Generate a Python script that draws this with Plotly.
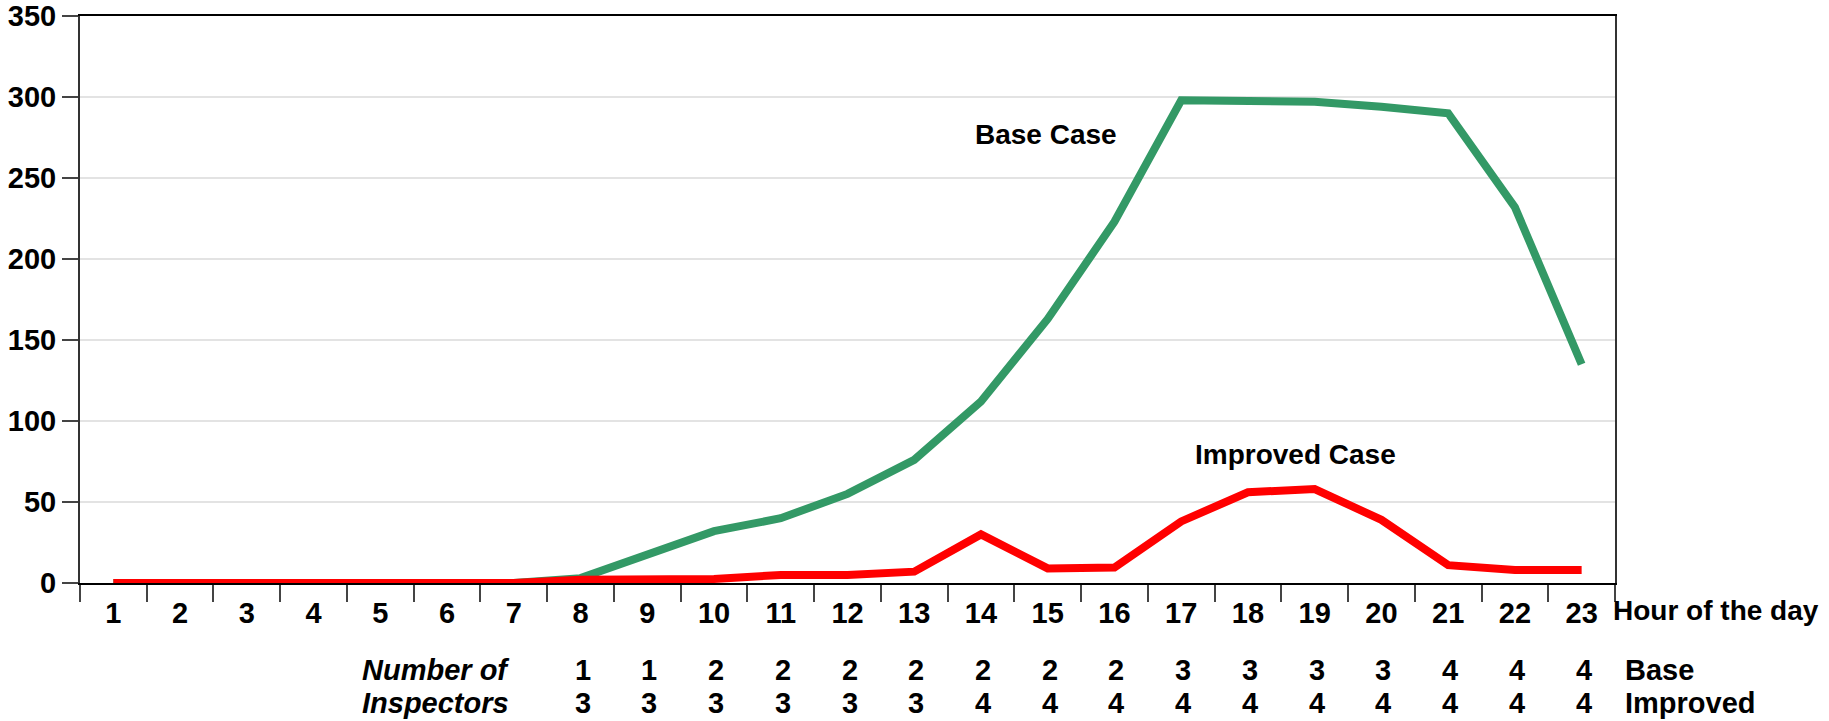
import plotly.graph_objects as go

hours = [str(h) for h in range(1, 24)]
base_case = [0, 0, 0, 0, 0, 0, 0, 3, 17, 32, 40, 55, 76, 112, 163, 223, 298, 298, 297, 294, 290, 232, 135]
improved_case = [0, 0, 0, 0, 0, 0, 0, 2, 2.5, 2.5, 5, 5, 7, 30, 9, 9.5, 38, 56, 58, 39, 11, 8, 8]

inspector_hours = [str(h) for h in range(8, 24)]
base_inspectors = [1, 1, 2, 2, 2, 2, 2, 2, 2, 3, 3, 3, 3, 4, 4, 4]
improved_inspectors = [3, 3, 3, 3, 3, 3, 4, 4, 4, 4, 4, 4, 4, 4, 4, 4]

y_ticks = [0, 50, 100, 150, 200, 250, 300, 350]

FONT = "Liberation Sans, Arial, sans-serif"
GREEN = "#339966"
RED = "#ff0000"

fig = go.Figure()
fig.add_trace(go.Scatter(x=hours, y=base_case, mode="lines",
                         line=dict(color=GREEN, width=8), name="Base Case",
                         showlegend=False))
fig.add_trace(go.Scatter(x=hours, y=improved_case, mode="lines",
                         line=dict(color=RED, width=8), name="Improved Case",
                         showlegend=False))

tickbold = dict(family=FONT, size=29, color="black", weight="bold")
bold = dict(family=FONT, size=28, color="black", weight="bold")
rowfont = dict(family=FONT, size=29, color="black", weight="bold")

annotations = []
annotations.append(dict(text="Base Case", x=0.6293, xref="paper", y=277, yref="y",
                        showarrow=False, font=bold, xanchor="center", yanchor="middle"))
annotations.append(dict(text="Improved Case", x=0.792, xref="paper", y=79.5, yref="y",
                        showarrow=False, font=bold, xanchor="center", yanchor="middle"))
annotations.append(dict(text="Hour of the day", x=1, xref="paper", y=-0.049, yref="paper",
                        showarrow=False, font=bold, xanchor="left", yanchor="middle", xshift=-4))

row1_y = (583 - 670) / 567
row2_y = (583 - 703) / 567
for h, b, im in zip(inspector_hours, base_inspectors, improved_inspectors):
    xi = hours.index(h)
    annotations.append(dict(text=str(b), x=xi, xref="x", y=row1_y, yref="paper",
                            showarrow=False, font=rowfont, xanchor="center", yanchor="middle", xshift=2))
    annotations.append(dict(text=str(im), x=xi, xref="x", y=row2_y, yref="paper",
                            showarrow=False, font=rowfont, xanchor="center", yanchor="middle", xshift=2))

annotations.append(dict(text="Base", x=1, xref="paper", y=row1_y, yref="paper", showarrow=False,
                        font=rowfont, xanchor="left", yanchor="middle", xshift=8))
annotations.append(dict(text="Improved", x=1, xref="paper", y=row2_y, yref="paper", showarrow=False,
                        font=rowfont, xanchor="left", yanchor="middle", xshift=8))
ital = dict(family=FONT, size=29, color="black", weight="bold", style="italic")
annotations.append(dict(text="Number of", x=(360 - 80) / 1535, xref="paper", y=row1_y, yref="paper",
                        showarrow=False, font=ital, xanchor="left", yanchor="middle"))
annotations.append(dict(text="Inspectors", x=(360 - 80) / 1535, xref="paper", y=row2_y, yref="paper",
                        showarrow=False, font=ital, xanchor="left", yanchor="middle"))

fig.update_layout(
    width=1829, height=721,
    margin=dict(l=80, r=214, t=16, b=138, autoexpand=False),
    paper_bgcolor="white", plot_bgcolor="white",
    showlegend=False,
    annotations=annotations,
    xaxis=dict(type="category", range=[-0.5, 22.5], tickson="boundaries",
               ticks="outside", ticklen=17, tickwidth=1.5, tickcolor="#444",
               showline=True, linecolor="black", linewidth=2, mirror=True,
               showgrid=False, zeroline=False, tickfont=tickbold, ticklabelstandoff=3,
               automargin=False),
    yaxis=dict(range=[0, 350], tickvals=y_ticks, ticks="outside", ticklen=16,
               tickwidth=1.5, tickcolor="#444", showline=True, linecolor="#333",
               linewidth=2, mirror=True, showgrid=True, gridcolor="#e3e3e3", gridwidth=1.5,
               zeroline=False, tickfont=tickbold, automargin=False),
)

fig.write_html("out.html", config={"displayModeBar": False},
               post_script="document.body.style.margin='0';document.body.style.overflow='hidden';")
